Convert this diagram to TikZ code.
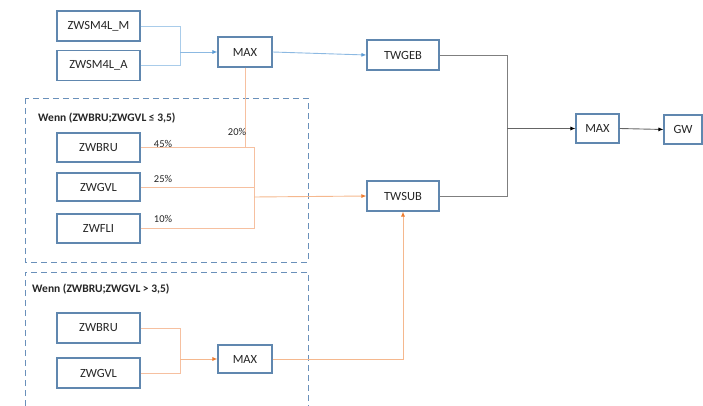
\documentclass[tikz,border=0pt]{standalone}
\usepackage{fontspec}
\setmainfont{Carlito}
\usetikzlibrary{arrows.meta}
\definecolor{boxline}{HTML}{6087AF}
\definecolor{frameline}{HTML}{6A90BA}
\definecolor{txt}{HTML}{262626}
\definecolor{bluelight}{HTML}{A9CCEA}
\definecolor{bluedark}{HTML}{5B9BD5}
\definecolor{orangelight}{HTML}{F6C0A0}
\definecolor{orangedark}{HTML}{ED7D31}
\definecolor{grayline}{HTML}{7F7F7F}
\begin{document}
\begin{tikzpicture}[
  x=1pt,y=-1pt,
  box/.style={rectangle,draw=boxline,line width=1.1pt,fill=white,inner sep=0pt,
              text=txt,font=\fontsize{12.5}{14}\selectfont},
  frame/.style={draw=frameline,line width=0.9pt,dash pattern=on 6pt off 4pt},
  cond/.style={anchor=west,inner sep=0pt,text=txt,font=\fontsize{11.5}{13}\selectfont\bfseries},
  pct/.style={inner sep=0pt,text=txt,font=\fontsize{10.5}{12}\selectfont},
  bline/.style={bluelight,line width=0.9pt},
  barr/.style={bluedark!70,line width=0.9pt,-{Latex[length=5pt,width=4pt,color=bluedark]}},
  oline/.style={orangelight,line width=0.9pt},
  oarr/.style={orangedark!55,line width=0.9pt,-{Latex[length=5pt,width=4pt,color=orangedark]}},
  gline/.style={grayline,line width=0.9pt},
  garr/.style={grayline!80!black,line width=0.9pt,-{Latex[length=5pt,width=4pt,color=black]}}
]
  \useasboundingbox (0,0) rectangle (703,406);

  % condition frames
  \draw[frame] (25,98) rectangle (308,262);
  \draw[frame] (25,406) |- (308,272) -- (308,406);
  \node[cond] (cond1) at (38,118) {Wenn (ZWBRU;ZWGVL ≤ 3,5)};
  \node[cond] (cond2) at (32,289) {Wenn (ZWBRU;ZWGVL > 3,5)};

  % boxes
  \node[box,minimum width=83pt,minimum height=30pt] (sm4lm) at (98.5,26) {ZWSM4L\_M};
  \node[box,minimum width=83pt,minimum height=30pt] (sm4la) at (98.5,65.5) {ZWSM4L\_A};
  \node[box,minimum width=54pt,minimum height=30pt] (max1) at (245,52) {MAX};
  \node[box,minimum width=72pt,minimum height=30pt] (twgeb) at (403,55) {TWGEB};
  \node[box,minimum width=72pt,minimum height=30pt] (twsub) at (403,196) {TWSUB};
  \node[box,minimum width=43pt,minimum height=29pt] (max2) at (597.5,128.5) {MAX};
  \node[box,minimum width=38pt,minimum height=29pt] (gw) at (683,129.5) {GW};

  \node[box,minimum width=83pt,minimum height=29pt] (bru1) at (98.5,147.5) {ZWBRU};
  \node[box,minimum width=83pt,minimum height=28pt] (gvl1) at (98.5,187) {ZWGVL};
  \node[box,minimum width=83pt,minimum height=29pt] (fli1) at (98.5,228.5) {ZWFLI};

  \node[box,minimum width=83pt,minimum height=30pt] (bru2) at (98.5,328) {ZWBRU};
  \node[box,minimum width=83pt,minimum height=30pt] (gvl2) at (98.5,373) {ZWGVL};
  \node[box,minimum width=54pt,minimum height=28pt] (max3) at (245,359) {MAX};

  % junctions
  \coordinate (jsm) at (180,52);
  \coordinate (jtw) at (507,128.5);
  \coordinate (jsub) at (254,197);
  \coordinate (jmax) at (180,359);

  % blue branch
  \draw[bline] (sm4lm.east) -| (jsm);
  \draw[bline] (sm4la.east) -| (jsm);
  \draw[barr] (jsm) -- (max1.west);
  \draw[barr] (max1.east) -- (twgeb.west);

  % weighted sum
  \draw[oline] (max1.south) -- (max1.south |- bru1.east);
  \draw[oline] (bru1.east) -| (jsub);
  \draw[oline] (gvl1.east) -| (jsub);
  \draw[oline] (fli1.east) -| (jsub);
  \draw[oarr] (jsub) -- (twsub.west);
  \node[pct] (p20) at (237,132) {20\%};
  \node[pct] (p45) at (163,144) {45\%};
  \node[pct] (p25) at (163,179) {25\%};
  \node[pct] (p10) at (163,219) {10\%};

  % second condition
  \draw[oline] (bru2.east) -| (jmax);
  \draw[oline] (gvl2.east) -| (jmax);
  \draw[oarr] (jmax) -- (max3.west);
  \draw[oarr] (max3.east) -| (twsub.south);

  % result
  \draw[gline] (twgeb.east) -| (jtw);
  \draw[gline] (twsub.east) -| (jtw);
  \draw[garr] (jtw) -- (max2.west);
  \draw[garr] (max2.east) -- (gw.west);
\end{tikzpicture}
\end{document}
